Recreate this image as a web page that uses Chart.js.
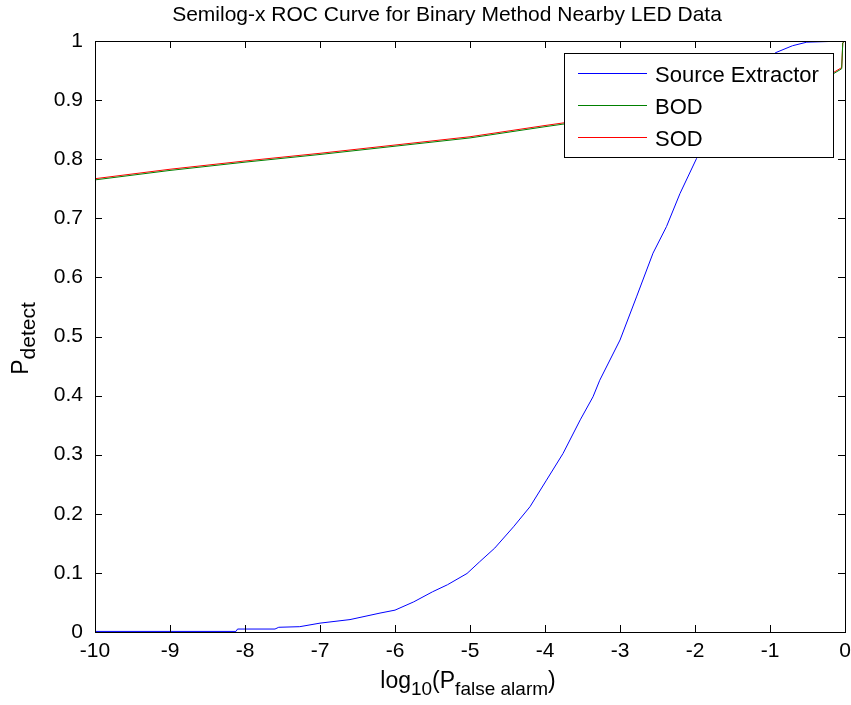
<!DOCTYPE html>
<html>
<head>
<meta charset="utf-8">
<script src="https://cdn.jsdelivr.net/npm/chart.js@4.4.1/dist/chart.umd.min.js"></script>
<style>
  html, body { margin: 0; padding: 0; background: #fff; }
  #wrap { width: 851px; height: 705px; }
</style>
</head>
<body>
<div id="wrap"><canvas id="roc" width="851" height="705"></canvas></div>
<script>
// log10 of false alarm probability vs detection probability
const srcX = [-10, -8.12, -8.1, -7.6, -7.55, -7.27, -7.0, -6.6, -6.2, -6.0, -5.75, -5.5, -5.3, -5.04,
  -4.87, -4.67, -4.42, -4.2, -3.98, -3.76, -3.53, -3.36, -3.27, -3.0, -2.78, -2.56, -2.38, -2.2,
  -1.98, -1.7, -1.4, -1.15, -0.93, -0.7, -0.51, 0];
const srcY = [0.001, 0.001, 0.005, 0.005, 0.008, 0.009, 0.015, 0.021, 0.032, 0.037, 0.051, 0.068, 0.080, 0.099,
  0.119, 0.142, 0.178, 0.212, 0.257, 0.302, 0.359, 0.398, 0.426, 0.494, 0.567, 0.641, 0.686, 0.742,
  0.801, 0.865, 0.920, 0.955, 0.980, 0.992, 0.998, 1.0];

const odX = [-10, -9, -8, -7, -6, -5, -4, -3.5, -3, -2, -1, -0.5, -0.163, -0.044, -0.03, 0];
const bodY = [0.765, 0.781, 0.795, 0.808, 0.822, 0.836, 0.855, 0.864, 0.872, 0.888, 0.910, 0.926, 0.944, 0.953, 0.997, 1.0];
const sodY = [0.767, 0.783, 0.797, 0.810, 0.824, 0.838, 0.857, 0.866, 0.874, 0.890, 0.912, 0.928, 0.946, 0.955, 0.997, 1.0];

const xTicks = [-10, -9, -8, -7, -6, -5, -4, -3, -2, -1, 0];
const yTicks = [0, 0.1, 0.2, 0.3, 0.4, 0.5, 0.6, 0.7, 0.8, 0.9, 1];

const seriesNames = ['Source Extractor', 'BOD', 'SOD'];
const seriesColors = ['#0000ff', '#008000', '#ff0000'];

const FONT = "'Liberation Sans', Arial, sans-serif";

function pts(xs, ys) {
  return xs.map((x, i) => ({ x: x, y: ys[i] }));
}

// box + inward ticks, matlab style
const boxPlugin = {
  id: 'box',
  afterDatasetsDraw(chart) {
    const ctx = chart.ctx;
    const a = chart.chartArea;
    const xs = chart.scales.x, ys = chart.scales.y;
    const len = 7;
    ctx.save();
    ctx.strokeStyle = '#000';
    ctx.lineWidth = 1;
    ctx.beginPath();
    xTicks.forEach(v => {
      const p = Math.round(xs.getPixelForValue(v)) + 0.5;
      ctx.moveTo(p, a.bottom); ctx.lineTo(p, a.bottom - len);
      ctx.moveTo(p, a.top); ctx.lineTo(p, a.top + len);
    });
    yTicks.forEach(v => {
      const p = Math.round(ys.getPixelForValue(v)) + 0.5;
      ctx.moveTo(a.left, p); ctx.lineTo(a.left + len, p);
      ctx.moveTo(a.right, p); ctx.lineTo(a.right - len, p);
    });
    ctx.stroke();
    ctx.strokeRect(Math.round(a.left) + 0.5, Math.round(a.top) + 0.5,
      Math.round(a.right - a.left), Math.round(a.bottom - a.top));
    ctx.restore();
  }
};

// legend box in the top right corner of the axes
const legendPlugin = {
  id: 'boxLegend',
  afterDraw(chart) {
    const ctx = chart.ctx;
    const a = chart.chartArea;
    const w = 269, h = 104;
    const x0 = Math.round(a.right - 12 - w);
    const y0 = Math.round(a.top + 12);
    ctx.save();
    ctx.fillStyle = '#fff';
    ctx.fillRect(x0, y0, w, h);
    ctx.strokeStyle = '#000';
    ctx.lineWidth = 1;
    ctx.strokeRect(x0 + 0.5, y0 + 0.5, w, h);
    ctx.font = '22px ' + FONT;
    ctx.textBaseline = 'middle';
    ctx.textAlign = 'left';
    for (let i = 0; i < seriesNames.length; i++) {
      const ly = y0 + 20 + i * 32;
      ctx.fillStyle = seriesColors[i];
      ctx.fillRect(x0 + 14, ly, 69, 1);
      ctx.fillStyle = '#000';
      ctx.fillText(seriesNames[i], x0 + 91, ly + 3);
    }
    ctx.restore();
  }
};

// title and axis labels with subscripts
function drawSub(ctx, parts, cx, baseY) {
  let total = 0;
  parts.forEach(p => { ctx.font = p.size + 'px ' + FONT; p.w = ctx.measureText(p.t).width; total += p.w; });
  let x = cx - total / 2;
  parts.forEach(p => {
    ctx.font = p.size + 'px ' + FONT;
    ctx.fillText(p.t, x, baseY + (p.sub ? 7 : 0));
    x += p.w;
  });
}

const textPlugin = {
  id: 'texts',
  afterDraw(chart) {
    const ctx = chart.ctx;
    const a = chart.chartArea;
    const cx = (a.left + a.right) / 2;
    ctx.save();
    ctx.fillStyle = '#000';
    ctx.textAlign = 'left';
    ctx.textBaseline = 'alphabetic';
    drawSub(ctx, [{ t: 'Semilog-x ROC Curve for Binary Method Nearby LED Data', size: 21 }], cx - 23, 21);
    drawSub(ctx, [
      { t: 'log', size: 23 }, { t: '10', size: 19, sub: true }, { t: '(P', size: 23 },
      { t: 'false alarm', size: 19, sub: true }, { t: ')', size: 23 }
    ], cx - 2, 688);
    ctx.translate(28, (a.top + a.bottom) / 2 + 2);
    ctx.rotate(-Math.PI / 2);
    drawSub(ctx, [{ t: 'P', size: 23 }, { t: 'detect', size: 21, sub: true }], 0, 0);
    ctx.restore();
  }
};

const config = {
  type: 'line',
  data: {
    datasets: [
      { label: seriesNames[0], data: pts(srcX, srcY), borderColor: seriesColors[0] },
      { label: seriesNames[1], data: pts(odX, bodY), borderColor: seriesColors[1] },
      { label: seriesNames[2], data: pts(odX, sodY), borderColor: seriesColors[2] }
    ]
  },
  options: {
    responsive: false,
    animation: false,
    layout: { padding: { left: 0, top: 41, right: 0, bottom: 0 } },
    elements: {
      point: { radius: 0 },
      line: { borderWidth: 1, tension: 0, fill: false }
    },
    plugins: {
      legend: { display: false },
      title: { display: false },
      tooltip: { enabled: false }
    },
    scales: {
      x: {
        type: 'linear',
        min: -10, max: 0,
        grid: { display: false, drawTicks: false },
        border: { display: false },
        afterFit(scale) { scale.height = 73; scale.paddingRight = 6; },
        afterBuildTicks(scale) { scale.ticks = xTicks.map(v => ({ value: v })); },
        ticks: {
          color: '#000',
          padding: 7,
          maxRotation: 0,
          font: { family: FONT, size: 21 },
          callback: v => String(v)
        }
      },
      y: {
        type: 'linear',
        min: 0, max: 1,
        grid: { display: false, drawTicks: false },
        border: { display: false },
        afterFit(scale) { scale.width = 95; },
        afterBuildTicks(scale) { scale.ticks = yTicks.map(v => ({ value: v })); },
        ticks: {
          color: '#000',
          padding: 12,
          font: { family: FONT, size: 21 },
          callback: v => String(Math.round(v * 10) / 10)
        }
      }
    }
  },
  plugins: [boxPlugin, legendPlugin, textPlugin]
};

new Chart(document.getElementById('roc'), config);
</script>
</body>
</html>
